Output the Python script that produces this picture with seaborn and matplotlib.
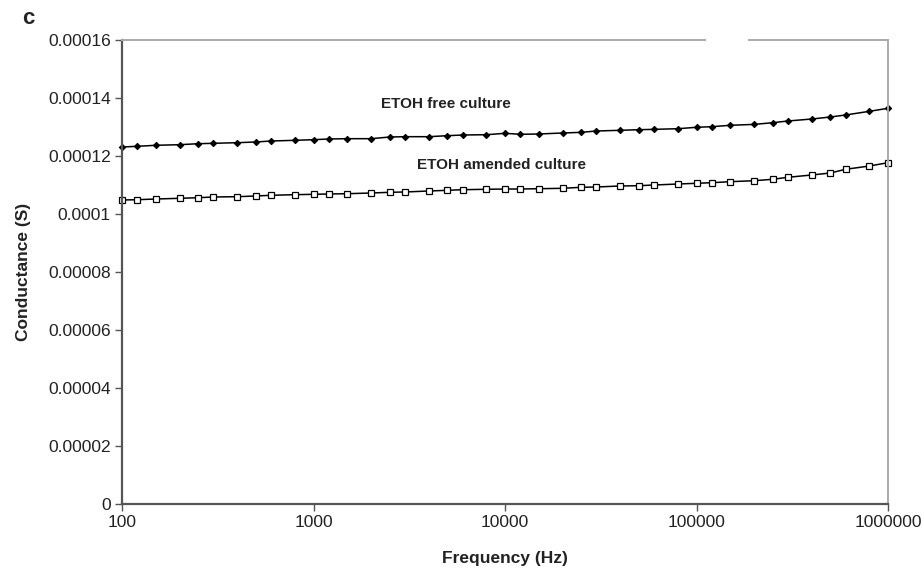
import matplotlib
matplotlib.use("Agg")
import matplotlib.pyplot as plt
import seaborn as sns
import pandas as pd
from matplotlib.patches import Rectangle

freq = [100, 120, 150, 200, 250, 300, 400, 500, 600, 800,
        1000, 1200, 1500, 2000, 2500, 3000, 4000, 5000, 6000, 8000,
        10000, 12000, 15000, 20000, 25000, 30000, 40000, 50000, 60000, 80000,
        100000, 120000, 150000, 200000, 250000, 300000, 400000, 500000, 600000, 800000,
        1000000]

etoh_free = [1.2310e-4, 1.2334e-4, 1.2369e-4, 1.2390e-4, 1.2424e-4, 1.2438e-4, 1.2459e-4, 1.2483e-4, 1.2517e-4, 1.2541e-4,
             1.2562e-4, 1.2586e-4, 1.2597e-4, 1.2597e-4, 1.2655e-4, 1.2666e-4, 1.2666e-4, 1.2700e-4, 1.2724e-4, 1.2734e-4,
             1.2783e-4, 1.2748e-4, 1.2759e-4, 1.2793e-4, 1.2816e-4, 1.2862e-4, 1.2886e-4, 1.2907e-4, 1.2919e-4, 1.2941e-4,
             1.2990e-4, 1.3010e-4, 1.3059e-4, 1.3090e-4, 1.3148e-4, 1.3207e-4, 1.3276e-4, 1.3345e-4, 1.3414e-4, 1.3541e-4,
             1.3645e-4]

etoh_amended = [1.0483e-4, 1.0493e-4, 1.0517e-4, 1.0541e-4, 1.0562e-4, 1.0586e-4, 1.0597e-4, 1.0621e-4, 1.0645e-4, 1.0666e-4,
                1.0679e-4, 1.0690e-4, 1.0700e-4, 1.0724e-4, 1.0748e-4, 1.0759e-4, 1.0793e-4, 1.0817e-4, 1.0838e-4, 1.0852e-4,
                1.0862e-4, 1.0862e-4, 1.0872e-4, 1.0886e-4, 1.0921e-4, 1.0931e-4, 1.0966e-4, 1.0976e-4, 1.1000e-4, 1.1034e-4,
                1.1059e-4, 1.1079e-4, 1.1114e-4, 1.1148e-4, 1.1197e-4, 1.1266e-4, 1.1345e-4, 1.1414e-4, 1.1541e-4, 1.1655e-4,
                1.1769e-4]

y_ticks = [0, 0.00002, 0.00004, 0.00006, 0.00008, 0.0001, 0.00012, 0.00014, 0.00016]
y_tick_labels = ["0", "0.00002", "0.00004", "0.00006", "0.00008", "0.0001", "0.00012", "0.00014", "0.00016"]
x_ticks = [100, 1000, 10000, 100000, 1000000]
x_tick_labels = ["100", "1000", "10000", "100000", "1000000"]

sns.set_style("white")
plt.rcParams['font.family'] = ['Liberation Sans', 'DejaVu Sans']

fig = plt.figure(figsize=(9.24, 5.69), dpi=100)
ax = fig.add_axes([122/924, 65/569, 766/924, 464/569])

df_free = pd.DataFrame({"freq": freq, "g": etoh_free})
df_am = pd.DataFrame({"freq": freq, "g": etoh_amended})

sns.lineplot(data=df_free, x="freq", y="g", ax=ax, color="black", lw=1.1,
             marker="D", markersize=3.2, markeredgecolor="black", markerfacecolor="black",
             clip_on=False)
sns.lineplot(data=df_am, x="freq", y="g", ax=ax, color="black", lw=1.1,
             marker="s", markersize=5, markeredgecolor="black", markerfacecolor="white",
             markeredgewidth=0.9, clip_on=False)

ax.set_xscale("log")
ax.set_xlim(100, 1000000)
ax.set_ylim(0, 0.00016)
ax.set_xticks(x_ticks)
ax.set_xticklabels(x_tick_labels)
ax.xaxis.set_minor_locator(matplotlib.ticker.NullLocator())
ax.set_yticks(y_ticks)
ax.set_yticklabels(y_tick_labels)
ax.tick_params(axis="both", which="major", direction="out", length=5, width=1,
               color="#555555", labelsize=12.5, labelcolor="#222222", pad=3,
               bottom=True, left=True)
ax.tick_params(axis="x", pad=3)

for s in ["left", "bottom"]:
    ax.spines[s].set_color("#555555")
    ax.spines[s].set_linewidth(1.6)
for s in ["top", "right"]:
    ax.spines[s].set_color("#aaaaaa")
    ax.spines[s].set_linewidth(1.4)

ax.set_xlabel("Frequency (Hz)", fontsize=12.5, fontweight="bold", color="#222222")
ax.xaxis.set_label_coords(0.5, (504 - 551) / 464)
ax.set_ylabel("Conductance (S)", fontsize=12.5, fontweight="bold", color="#222222")
ax.yaxis.set_label_coords((31 - 122) / 766, 0.5)

ax.text(4920, 0.0001379, "ETOH free culture", fontsize=11, fontweight="bold",
        ha="center", va="center", color="#222222")
ax.text(9640, 0.0001169, "ETOH amended culture", fontsize=11, fontweight="bold",
        ha="center", va="center", color="#222222")

fig.text(22/924, 1 - 19/569, "c", fontsize=16, fontweight="bold", ha="left", va="center")

# white gap in top frame
fig.patches.append(Rectangle((706/924, 1 - 46/569), 42/924, 12/569,
                             transform=fig.transFigure, facecolor="white",
                             edgecolor="none", zorder=10))

fig.savefig("out.png", dpi=100)
